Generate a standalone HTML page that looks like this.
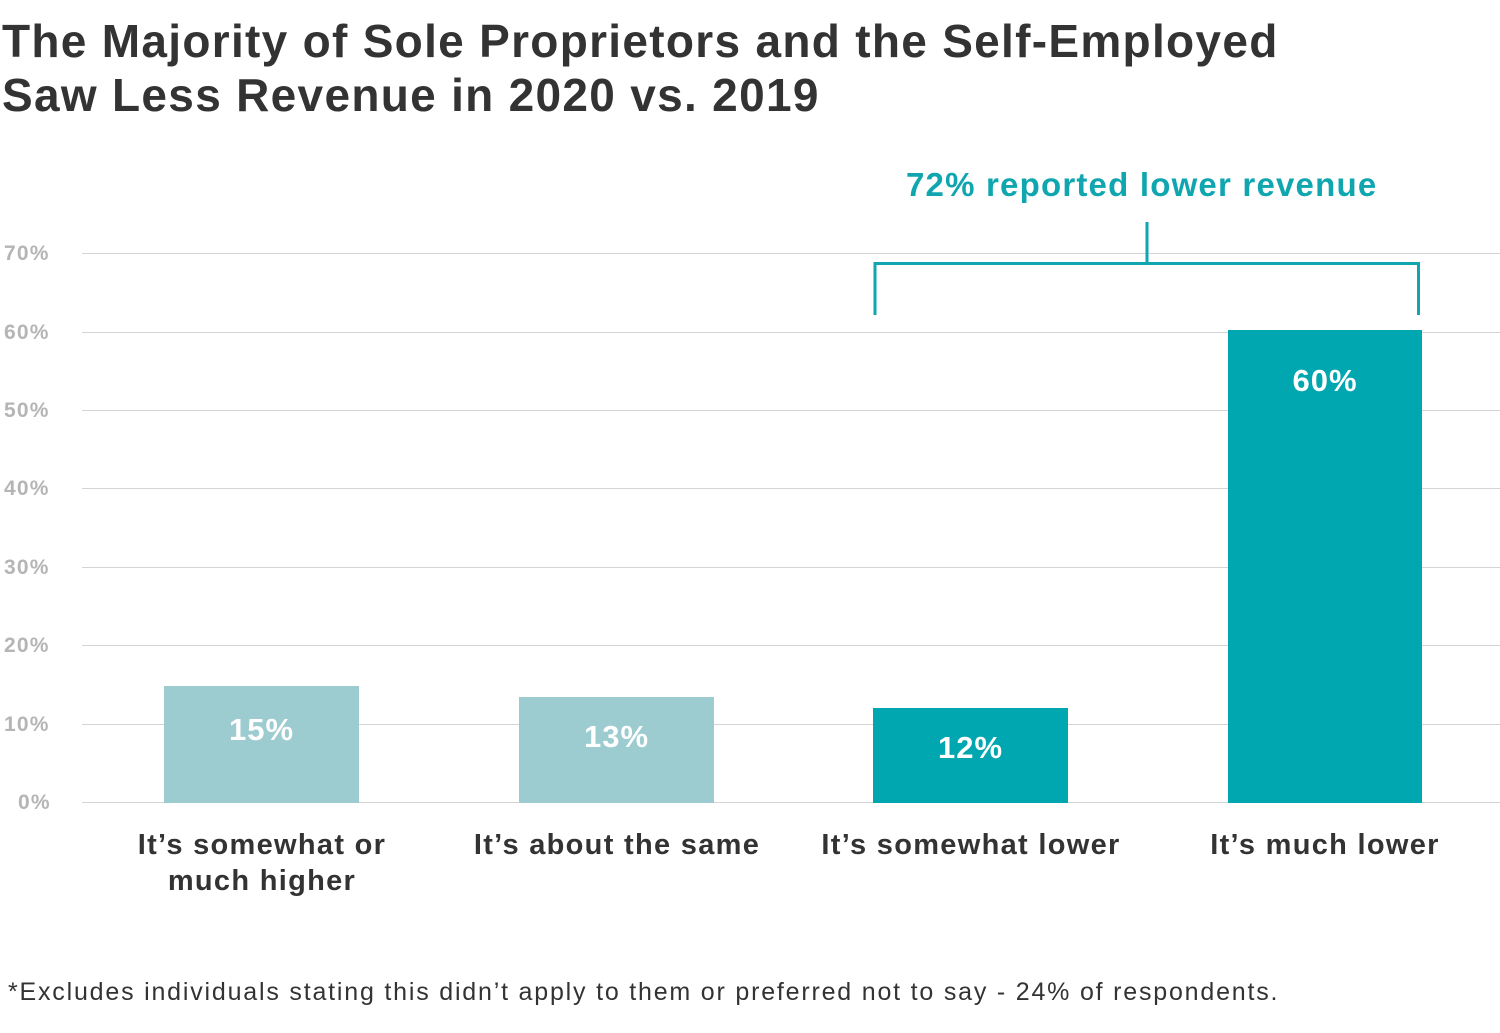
<!DOCTYPE html>
<html><head><meta charset="utf-8"><style>
body{margin:0;width:1500px;height:1033px;background:#fff;overflow:hidden;font-family:"Liberation Sans",sans-serif;}
.t{position:absolute;left:2px;top:14px;font-size:46px;font-weight:bold;color:#333;line-height:54px;letter-spacing:1.3px;}
.g{position:absolute;left:82px;width:1418px;height:1px;background:#d4d4d4;}
.yl{position:absolute;left:4px;font-size:21px;color:#b5b5b5;font-weight:bold;letter-spacing:1.2px;}
.b{position:absolute;}
.v{position:absolute;width:100%;text-align:center;color:#fff;font-size:31px;font-weight:bold;letter-spacing:1px;}
.x{position:absolute;text-align:center;font-size:29px;color:#333;font-weight:bold;line-height:36px;width:400px;letter-spacing:1.3px;}
</style></head><body>
<div class="t">The Majority of Sole Proprietors and the Self-Employed<br>Saw Less Revenue in 2020 vs. 2019</div>
<div class="g" style="top:253px"></div><div class="g" style="top:332px"></div><div class="g" style="top:410px"></div><div class="g" style="top:488px"></div><div class="g" style="top:567px"></div><div class="g" style="top:645px"></div><div class="g" style="top:724px"></div><div class="g" style="top:802px"></div>
<div class="yl" style="top:242px">70%</div><div class="yl" style="top:321px">60%</div><div class="yl" style="top:399px">50%</div><div class="yl" style="top:477px">40%</div><div class="yl" style="top:556px">30%</div><div class="yl" style="top:634px">20%</div><div class="yl" style="top:713px">10%</div><div class="yl" style="top:791px;left:18px">0%</div>
<div class="b" style="left:164px;width:195px;top:686px;height:117px;background:#9ccbd0"><div class="v" style="top:26px">15%</div></div>
<div class="b" style="left:519px;width:195px;top:697px;height:106px;background:#9ccbd0"><div class="v" style="top:22px">13%</div></div>
<div class="b" style="left:873px;width:195px;top:708px;height:95px;background:#00a6b0"><div class="v" style="top:22px">12%</div></div>
<div class="b" style="left:1228px;width:194px;top:330px;height:473px;background:#00a6b0"><div class="v" style="top:33px">60%</div></div>
<div class="x" style="left:62px;top:827px">It’s somewhat or<br>much higher</div>
<div class="x" style="left:417px;top:827px">It’s about the same</div>
<div class="x" style="left:771px;top:827px">It’s somewhat lower</div>
<div class="x" style="left:1125px;top:827px">It’s much lower</div>
<svg style="position:absolute;left:0;top:0" width="1500" height="1033"><path d="M875 315V263.5H1418.5V315M1147 222V263" fill="none" stroke="#0fa6b0" stroke-width="3"/></svg>
<div style="position:absolute;left:906px;top:166px;font-size:33px;font-weight:bold;color:#0fa6b0;letter-spacing:1.2px;">72% reported lower revenue</div>
<div style="position:absolute;left:8px;top:978px;font-size:25px;color:#333;letter-spacing:1.8px;">*Excludes individuals stating this didn’t apply to them or preferred not to say - 24% of respondents.</div>
</body></html>
